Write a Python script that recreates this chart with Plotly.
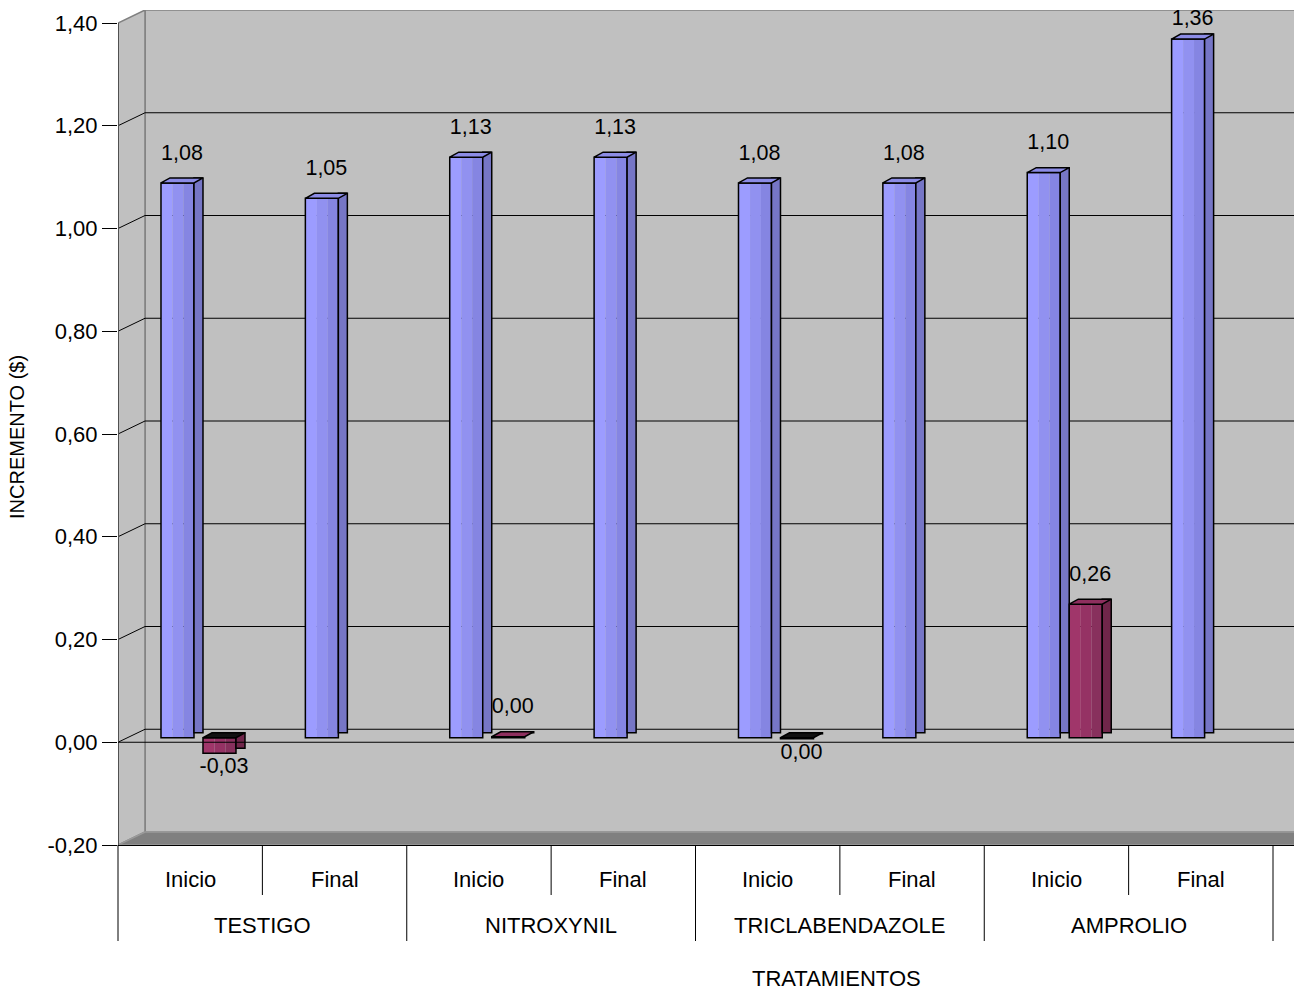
import plotly.graph_objects as go

# ---- data -------------------------------------------------------------
GRUPOS = ["TESTIGO", "NITROXYNIL", "TRICLABENDAZOLE", "AMPROLIO"]
MOMENTOS = ["Inicio", "Final"]
SERIE_AZUL = [1.08, 1.05, 1.13, 1.13, 1.08, 1.08, 1.10, 1.36]
SERIE_GRANATE = [-0.03, None, 0.002, None, -0.002, None, 0.26, None]
Y_TICKS = [-0.2, 0.0, 0.2, 0.4, 0.6, 0.8, 1.0, 1.2, 1.4]
Y_TICK_TEXT = ["-0,20", "0,00", "0,20", "0,40", "0,60", "0,80", "1,00", "1,20", "1,40"]
EJE_X = "TRATAMIENTOS"
EJE_Y = "INCREMENTO ($)"

# ---- geometry of the pseudo-3D frame -----------------------------------
W, H = 1294, 994
ML, MT, MB = 118, 10, 149
PLOT_W = W - ML
PLOT_H = H - MT - MB
CAT_PX = 144.375          # pixels per category on the front plane
VAL_PX = 513.75           # pixels per value unit
X_MIN = -0.5
X_MAX = X_MIN + PLOT_W / CAT_PX
Y_MIN = -0.2
Y_MAX = Y_MIN + PLOT_H / VAL_PX


def ux(p):
    return p / CAT_PX


def uy(p):
    return p / VAL_PX


DX, DY = ux(27), uy(13)      # depth of walls
BX = ux(12.8)                # bars sit half-way into the depth
BASE = uy(4.5)
BAR_W = ux(42)
SIDE_W = ux(9)
CAP_H = uy(5)
FONT = "Liberation Sans, Arial, sans-serif"
LABEL_MAX = Y_MAX - uy(20)   # keep value labels inside the frame

labels_x = [f"{g} {m}" for g in GRUPOS for m in MOMENTOS]
idx = list(range(len(labels_x)))

fig = go.Figure()


def fmt(v):
    return f"{round(v, 2) + 0.0:.2f}".replace(".", ",")


def add_bar_series(vals, start, face_cols, side_col, cap_col, neg_cap_col):
    face_w = BAR_W - SIDE_W
    fracs = [0.0, 0.35, 0.68, 1.0]
    for k, col in enumerate(face_cols):
        fig.add_trace(go.Bar(
            x=idx, y=vals, base=BASE,
            offset=start + face_w * fracs[k], width=face_w * (fracs[k + 1] - fracs[k]),
            marker=dict(color=col, line=dict(width=0)), hoverinfo="skip"))
    # outline of front face
    fig.add_trace(go.Bar(
        x=idx, y=vals, base=BASE, offset=start, width=face_w,
        marker=dict(color="rgba(0,0,0,0)", line=dict(color="black", width=1.5)),
        hoverinfo="skip"))
    # right side face
    fig.add_trace(go.Bar(
        x=idx, y=vals, base=BASE + CAP_H, offset=start + face_w, width=SIDE_W,
        marker=dict(color=side_col, line=dict(color="black", width=1.5)),
        hoverinfo="skip"))
    # top caps
    for sign, col in ((1, cap_col), (-1, neg_cap_col)):
        px, py = [], []
        for i, v in zip(idx, vals):
            if v is None or (v >= 0) != (sign > 0):
                continue
            top = BASE + max(v, 0)
            left = i + start
            px += [left, left + SIDE_W, left + BAR_W, left + BAR_W - SIDE_W, left, None]
            py += [top, top + CAP_H, top + CAP_H, top, top, None]
        if px:
            fig.add_trace(go.Scatter(
                x=px, y=py, mode="lines", fill="toself", fillcolor=col,
                line=dict(color="black", width=1.5), hoverinfo="skip"))


add_bar_series(SERIE_AZUL, BX - BAR_W,
               ["#9C9CFF", "#9191F0", "#8585E2"], "#7676C6", "#8C8CE6", "#202040")
add_bar_series(SERIE_GRANATE, BX,
               ["#A0366A", "#953264", "#88305D"], "#70264A", "#8E2F5E", "#111111")


# value labels
def add_labels(vals, center):
    for up in (True, False):
        xs, ys, ts = [], [], []
        for i, v in zip(idx, vals):
            if v is None:
                continue
            if (v > 0) != up:
                continue
            xs.append(i + center)
            if up:
                ys.append(min(BASE + v + CAP_H + uy(13), LABEL_MAX))
            else:
                ys.append(BASE + v - uy(4))
            ts.append(fmt(v))
        if xs:
            fig.add_trace(go.Scatter(
                x=xs, y=ys, text=ts, mode="text",
                textposition="top center" if up else "bottom center",
                textfont=dict(family=FONT, size=21.5, color="black"),
                hoverinfo="skip", cliponaxis=False))


add_labels(SERIE_AZUL, BX - BAR_W / 2)
add_labels(SERIE_GRANATE, BX + BAR_W / 2)

# ---- walls, floor and gridlines ---------------------------------------
shapes = []
XR = X_MAX + 1
shapes.append(dict(type="rect", xref="x", yref="y", layer="below",
                   x0=X_MIN + DX, x1=XR, y0=Y_MIN + DY, y1=1.4 + DY,
                   fillcolor="#C0C0C0", line=dict(color="#808080", width=1.5)))
shapes.append(dict(type="path", xref="x", yref="y", layer="below",
                   path=f"M {X_MIN},{Y_MIN} L {X_MIN + DX},{Y_MIN + DY} L {X_MIN + DX},{1.4 + DY} L {X_MIN},{1.4} Z",
                   fillcolor="#C0C0C0", line=dict(color="#808080", width=1.5)))
shapes.append(dict(type="path", xref="x", yref="y", layer="below",
                   path=f"M {X_MIN},{Y_MIN} L {XR},{Y_MIN} L {XR},{Y_MIN + DY} L {X_MIN + DX},{Y_MIN + DY} Z",
                   fillcolor="#808080", line=dict(color="#9A9A9A", width=1.5)))
for t in Y_TICKS[1:-1]:
    shapes.append(dict(type="line", xref="x", yref="y", layer="below",
                       x0=X_MIN + DX, x1=XR, y0=t + DY, y1=t + DY,
                       line=dict(color="black", width=1)))
    shapes.append(dict(type="line", xref="x", yref="y", layer="below",
                       x0=X_MIN, x1=X_MIN + DX, y0=t, y1=t + DY,
                       line=dict(color="black", width=1)))
# front value axis
shapes.append(dict(type="line", xref="x", yref="y", layer="above",
                   x0=X_MIN, x1=X_MIN, y0=Y_MIN, y1=1.4,
                   line=dict(color="#505050", width=2)))
# front zero line
shapes.append(dict(type="line", xref="x", yref="y", layer="above",
                   x0=X_MIN, x1=XR, y0=0, y1=0,
                   line=dict(color="black", width=1.2)))

# category dividers below the floor
n = len(labels_x)
for k in range(n + 1):
    xp = k * CAT_PX / PLOT_W
    depth = 96 if k % 2 == 0 else 50
    shapes.append(dict(type="line", xref="paper", yref="paper",
                       x0=xp, x1=xp, y0=0, y1=-depth / PLOT_H,
                       line=dict(color="black", width=1)))

annotations = []
for i in idx:
    annotations.append(dict(x=i, xref="x", y=-34 / PLOT_H, yref="paper",
                            text=MOMENTOS[i % 2], showarrow=False, yanchor="middle",
                            font=dict(family=FONT, size=22, color="black")))
for g, name in enumerate(GRUPOS):
    annotations.append(dict(x=2 * g + 0.5, xref="x", y=-80 / PLOT_H, yref="paper",
                            text=name, showarrow=False, yanchor="middle",
                            font=dict(family=FONT, size=22, color="black")))
annotations.append(dict(x=(836 - ML) / PLOT_W, xref="paper", y=-133 / PLOT_H, yref="paper",
                        text=EJE_X, showarrow=False, yanchor="middle",
                        font=dict(family=FONT, size=22, color="black")))
annotations.append(dict(x=(17 - ML) / PLOT_W, xref="paper", y=(845 - 437) / PLOT_H, yref="paper",
                        text=EJE_Y, showarrow=False, textangle=-90,
                        xanchor="center", yanchor="middle",
                        font=dict(family=FONT, size=20, color="black")))

fig.update_layout(
    width=W, height=H,
    margin=dict(l=ML, r=0, t=MT, b=MB, autoexpand=False),
    paper_bgcolor="white", plot_bgcolor="white",
    barmode="overlay", showlegend=False,
    shapes=shapes, annotations=annotations,
    xaxis=dict(range=[X_MIN, X_MAX], showgrid=False, zeroline=False,
               showticklabels=False, ticks="", showline=True,
               linecolor="black", linewidth=1, fixedrange=True),
    yaxis=dict(range=[Y_MIN, Y_MAX], showgrid=False, zeroline=False,
               tickvals=Y_TICKS, ticktext=Y_TICK_TEXT, ticks="outside",
               ticklen=15, tickcolor="black", tickwidth=1, showline=False,
               tickfont=dict(family=FONT, size=22, color="black"), fixedrange=True),
)

fig.write_html("out.html")
